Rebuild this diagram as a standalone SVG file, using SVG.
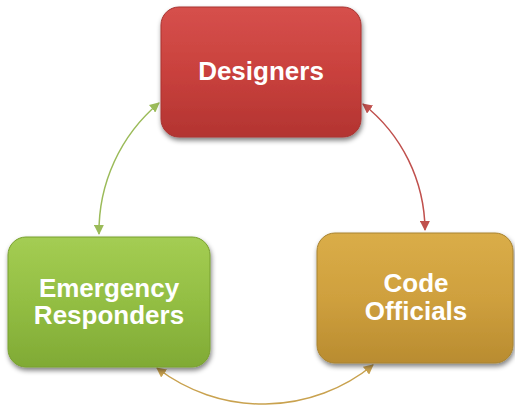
<svg xmlns="http://www.w3.org/2000/svg" width="515" height="409" viewBox="0 0 515 409">
<defs>
<linearGradient id="gRed" x1="0" y1="0" x2="0" y2="1">
<stop offset="0" stop-color="#D6504C"/><stop offset="0.5" stop-color="#C9413D"/><stop offset="1" stop-color="#B33431"/>
</linearGradient>
<linearGradient id="gGreen" x1="0" y1="0" x2="0" y2="1">
<stop offset="0" stop-color="#A4CD53"/><stop offset="0.5" stop-color="#93BE43"/><stop offset="1" stop-color="#80AA35"/>
</linearGradient>
<linearGradient id="gGold" x1="0" y1="0" x2="0" y2="1">
<stop offset="0" stop-color="#DAAD48"/><stop offset="0.5" stop-color="#CFA03E"/><stop offset="1" stop-color="#B98C30"/>
</linearGradient>
<filter id="sh" x="-10%" y="-10%" width="125%" height="130%">
<feGaussianBlur in="SourceAlpha" stdDeviation="2.5"/>
<feOffset dx="1" dy="3" result="b"/>
<feComponentTransfer><feFuncA type="linear" slope="0.5"/></feComponentTransfer>
<feMerge><feMergeNode/><feMergeNode in="SourceGraphic"/></feMerge>
</filter>
<marker id="aG" viewBox="0 0 10 10" refX="9" refY="5" markerWidth="10" markerHeight="10" markerUnits="userSpaceOnUse" orient="auto-start-reverse"><path d="M0,0 L10,5 L0,10 z" fill="#9BBB59"/></marker>
<marker id="aR" viewBox="0 0 10 10" refX="9" refY="5" markerWidth="10" markerHeight="10" markerUnits="userSpaceOnUse" orient="auto-start-reverse"><path d="M0,0 L10,5 L0,10 z" fill="#C0504D"/></marker>
<marker id="aY" viewBox="0 0 10 10" refX="9" refY="5" markerWidth="10" markerHeight="10" markerUnits="userSpaceOnUse" orient="auto-start-reverse"><path d="M0,0 L10,5 L0,10 z" fill="#C9A24F"/></marker>
</defs>
<style>
.box{filter:url(#sh);}
.lbl{font-family:"Liberation Sans",Arial,sans-serif;font-weight:bold;font-size:26px;fill:#FFFFFF;text-anchor:middle;}
.con{fill:none;stroke-width:1.5;}
</style>
<rect width="515" height="409" fill="#FFFFFF"/>
<g id="connectors">
<path class="con" stroke="#9BBB59" d="M99,234 A168 168 0 0 1 159,103" marker-start="url(#aG)" marker-end="url(#aG)"/>
<path class="con" stroke="#C0504D" d="M363,104 A162 162 0 0 1 425,230" marker-start="url(#aR)" marker-end="url(#aR)"/>
<path class="con" stroke="#C9A24F" d="M373,365 A174 174 0 0 1 157,368" marker-start="url(#aY)" marker-end="url(#aY)"/>
</g>
<g id="designers">
<rect class="box" x="161" y="7" width="200" height="130" rx="18" fill="url(#gRed)" stroke="#A83431" stroke-width="1"/>
<text class="lbl" x="261" y="80">Designers</text>
</g>
<g id="emergency-responders">
<rect class="box" x="8" y="237" width="202" height="130" rx="18" fill="url(#gGreen)" stroke="#79A030" stroke-width="1"/>
<text class="lbl" x="109" y="297">Emergency</text>
<text class="lbl" x="109" y="324">Responders</text>
</g>
<g id="code-officials">
<rect class="box" x="317" y="233" width="196" height="130" rx="18" fill="url(#gGold)" stroke="#A88330" stroke-width="1"/>
<text class="lbl" x="416" y="292">Code</text>
<text class="lbl" x="416" y="320">Officials</text>
</g>
</svg>
